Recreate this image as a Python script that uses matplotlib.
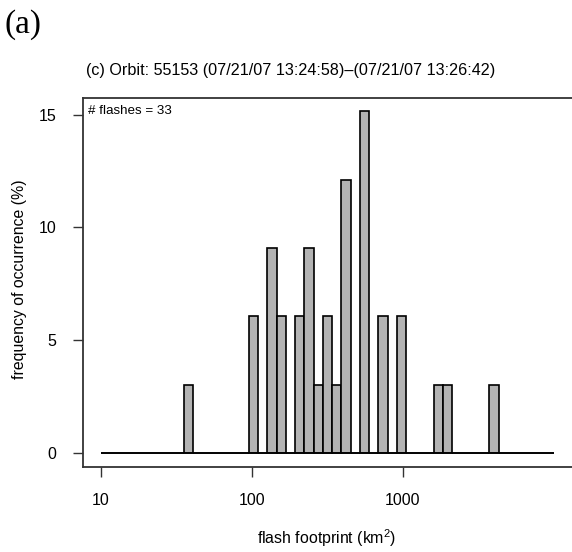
import numpy as np
import matplotlib
matplotlib.use("Agg")
import matplotlib.pyplot as plt
from matplotlib.ticker import NullLocator

plt.rcParams['font.family'] = ['Liberation Sans', 'DejaVu Sans']
plt.rcParams['mathtext.fontset'] = 'custom'
plt.rcParams['mathtext.rm'] = 'Liberation Sans'

# histogram of flash footprints, 49 log bins between 10 and 10000 km2
n_flashes = 33
counts = [0, 0, 0, 0, 0, 0, 0, 0, 0, 1,
          0, 0, 0, 0, 0, 0, 2, 0, 3, 2,
          0, 2, 3, 1, 2, 1, 4, 0, 5, 0,
          2, 0, 2, 0, 0, 0, 1, 1, 0, 0,
          0, 0, 1, 0, 0, 0, 0, 0, 0]
log_lo, log_hi = 1, 4
x_ticks = [10, 100, 1000]
x_ticklabels = ['10', '100', '1000']
y_ticks = [0, 5, 10, 15]
title = "(c) Orbit: 55153 (07/21/07 13:24:58)\u2013(07/21/07 13:26:42)"

edges = 10 ** np.linspace(log_lo, log_hi, len(counts) + 1)
freq = np.array(counts) / n_flashes * 100

W, H = 572, 552
fig = plt.figure(figsize=(W / 100, H / 100), dpi=100)
ax = fig.add_axes([82.7 / W, (H - 466.7) / H, (575 - 82.7) / W, (466.7 - 97.5) / H])

ax.bar(edges[:-1], freq, width=np.diff(edges), align='edge',
       color='#b3b3b3', edgecolor='black', linewidth=1.2)
ax.hlines(0, edges[0], edges[-1], color='black', linewidth=1.2)

ax.set_xscale('log')
ax.set_xlim(10 ** (1 - 18.3 / 151), 10 ** (1 + 474 / 151))
ax.set_ylim(-0.606, 15.76)
ax.set_xticks(x_ticks)
ax.set_xticklabels(x_ticklabels)
ax.xaxis.set_minor_locator(NullLocator())
ax.set_yticks(y_ticks)
ax.tick_params(direction='out', length=7.2, width=1, labelsize=11.5, color='#333333')
ax.tick_params(axis='x', pad=12)
ax.tick_params(axis='y', pad=12)
for s in ax.spines.values():
    s.set_color('#333333')
    s.set_linewidth(1.3)

fig.text(20 / W, 1 - 279 / H, 'frequency of occurrence (%)', rotation=90,
         ha='center', va='center', fontsize=11.4)
fig.text(327 / W, 1 - 538 / H, r'flash footprint (km$^\mathrm{2}$)',
         ha='center', va='center', fontsize=11.4)
fig.text(291 / W, 1 - 70 / H, title, ha='center', va='center', fontsize=11.6)
fig.text(88.3 / W, 1 - 110.7 / H, '# flashes = 33', ha='left', va='center', fontsize=9.6)
fig.text(5 / W, 1 - 25 / H, '(a)', family='Liberation Serif', fontsize=24,
         ha='left', va='center')

fig.savefig('out.png', dpi=100)
